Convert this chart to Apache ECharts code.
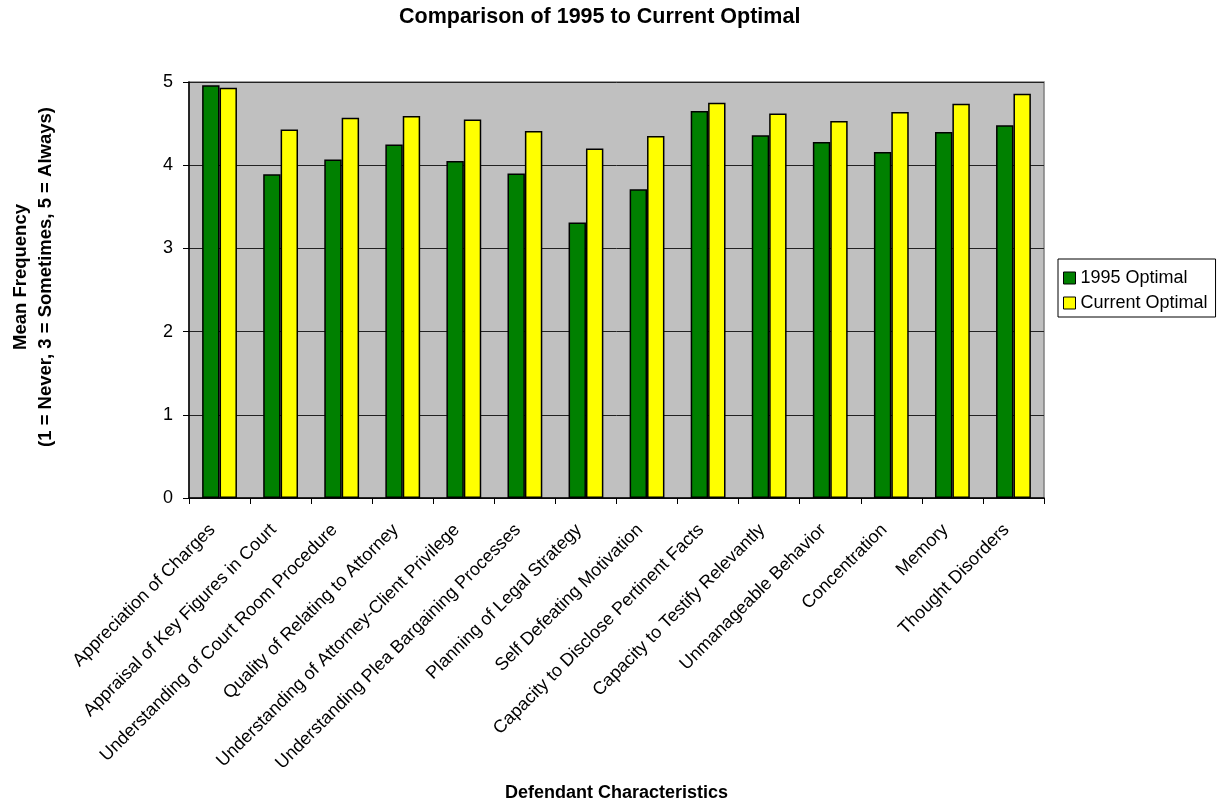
<!DOCTYPE html>
<html><head><meta charset="utf-8">
<script src="https://cdn.jsdelivr.net/npm/echarts@6/dist/echarts.min.js"></script>
<style>html,body{margin:0;padding:0;background:#fff}#c{width:1230px;height:806px}</style>
</head><body><div id="c"></div>
<script>
const categories = ["Appreciation of Charges","Appraisal of Key Figures in Court","Understanding of Court Room Procedure","Quality of Relating to Attorney","Understanding of Attorney-Client Privilege","Understanding Plea Bargaining Processes","Planning of Legal Strategy","Self Defeating Motivation","Capacity to Disclose Pertinent Facts","Capacity to Testify Relevantly","Unmanageable Behavior","Concentration","Memory","Thought Disorders"];
const optimal1995 = [4.96,3.89,4.07,4.25,4.05,3.90,3.31,3.71,4.65,4.36,4.28,4.16,4.40,4.48];
const currentOptimal = [4.93,4.43,4.57,4.59,4.55,4.41,4.20,4.35,4.75,4.62,4.53,4.64,4.74,4.86];
const yTicks = [0,1,2,3,4,5];

const font = "Liberation Sans, Arial, Helvetica, sans-serif";
const chart = echarts.init(document.getElementById('c'));
chart.setOption({
  animation:false,
  backgroundColor:'#fff',
  textStyle:{fontFamily:font},
  title:{text:'Comparison of 1995 to Current Optimal',left:394,top:1,
    textStyle:{fontFamily:font,fontSize:21.5,fontWeight:'bold',color:'#000'}},
  legend:{orient:'vertical',left:1058,top:259,padding:[10,8,5,5],itemGap:7,
    itemWidth:12,itemHeight:12,borderColor:'#000',borderWidth:1,backgroundColor:'#fff',
    textStyle:{fontFamily:font,fontSize:18,color:'#000'},
    data:[{name:'1995 Optimal',icon:'rect',itemStyle:{borderColor:'#000',borderWidth:1}},
          {name:'Current Optimal',icon:'rect',itemStyle:{borderColor:'#000',borderWidth:1}}]},
  grid:{left:189,right:186,top:82,bottom:308,outerBoundsMode:'none',containLabel:false,
    show:true,backgroundColor:'#c0c0c0',borderColor:'#808080',borderWidth:1.5},
  xAxis:{type:'category',data:categories,
    name:'Defendant Characteristics',nameLocation:'middle',nameGap:286,
    nameTextStyle:{fontFamily:font,fontSize:18,fontWeight:'bold',color:'#000'},
    axisLine:{lineStyle:{color:'#000',width:1.5}},
    axisTick:{show:true,length:6,lineStyle:{color:'#000'}},
    axisLabel:{rotate:45,interval:0,fontFamily:font,fontSize:18,color:'#000',margin:22,padding:[0,10,0,0]}},
  yAxis:{type:'value',min:0,max:5,interval:1,
    name:'Mean Frequency\n(1 = Never, 3 = Sometimes, 5 = Always)',nameLocation:'middle',nameGap:131,
    nameRotate:90,
    nameTextStyle:{fontFamily:font,fontSize:18.5,fontWeight:'bold',color:'#000',lineHeight:25,align:'center',padding:[0,0,0,26]},
    axisLine:{show:true,lineStyle:{color:'#000',width:1.5}},
    axisTick:{show:true,length:6,lineStyle:{color:'#000'}},
    axisLabel:{fontFamily:font,fontSize:18,color:'#000',margin:16,
      formatter:v=>yTicks.includes(v)?String(v):''},
    splitLine:{show:true,lineStyle:{color:'#222',width:1}}},
  series:[
    {name:'1995 Optimal',type:'bar',data:optimal1995,barGap:'0%',barCategoryGap:'43%',
      itemStyle:{color:'#008000',borderColor:'#000',borderWidth:1.5}},
    {name:'Current Optimal',type:'bar',data:currentOptimal,barGap:'0%',barCategoryGap:'43%',
      itemStyle:{color:'#ffff00',borderColor:'#000',borderWidth:1.5}}
  ]
});
</script></body></html>
